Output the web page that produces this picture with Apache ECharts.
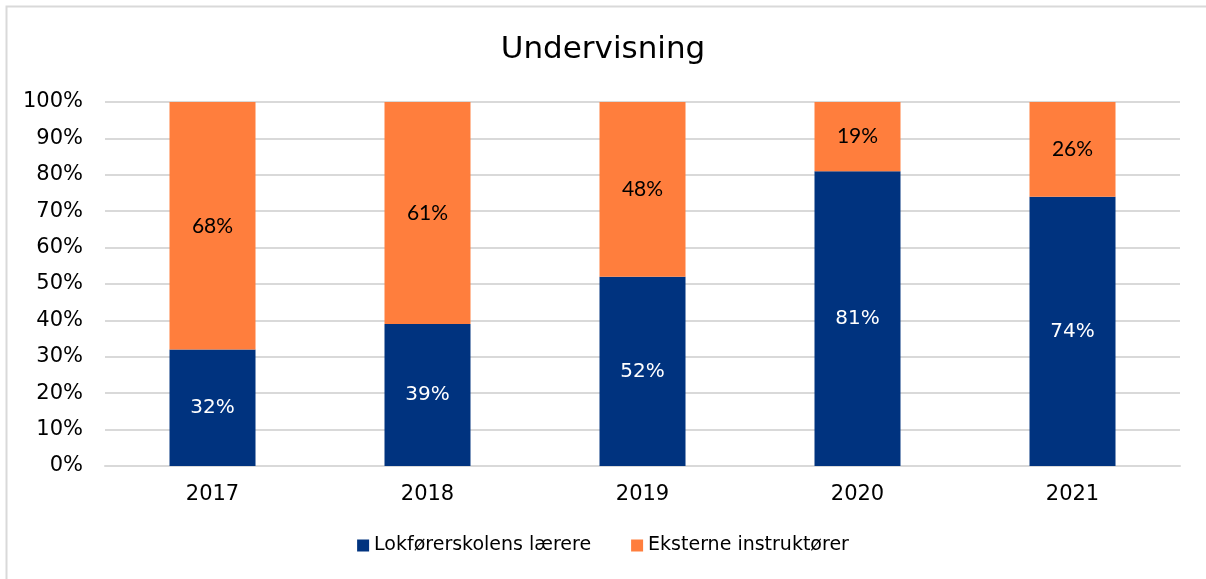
<!DOCTYPE html>
<html>
<head>
<meta charset="utf-8">
<script src="https://cdn.jsdelivr.net/npm/echarts@6/dist/echarts.min.js"></script>
<style>
  body { margin: 0; background: #fff; }
  #chart { width: 1206px; height: 579px; }
</style>
</head>
<body>
<div id="chart"></div>
<script>
// data
var years = ['2017', '2018', '2019', '2020', '2021'];
var laerere = [32, 39, 52, 81, 74];
var eksterne = [68, 61, 48, 19, 26];
var yTicks = [0, 10, 20, 30, 40, 50, 60, 70, 80, 90, 100];

var font = 'DejaVu Sans';
var chart = echarts.init(document.getElementById('chart'));

chart.setOption({
  animation: false,
  title: {
    text: 'Undervisning',
    left: 'center',
    top: 29,
    textStyle: { fontFamily: font, fontSize: 31, fontWeight: 'normal', color: '#000' }
  },
  graphic: [{
    type: 'rect',
    shape: { x: 6.5, y: 6.5, width: 1220, height: 620 },
    style: { fill: 'none', stroke: '#d9d9d9', lineWidth: 2 }
  }],
  legend: {
    bottom: 19,
    left: 'center',
    itemWidth: 12,
    itemHeight: 12,
    itemGap: 40,
    icon: 'rect',
    textStyle: { fontFamily: font, fontSize: 19, color: '#000', padding: [0, 0, 0, 0] }
  },
  grid: { left: 105, right: 26, top: 102, bottom: 113 },
  xAxis: {
    type: 'category',
    data: years,
    axisTick: { show: false },
    axisLine: { lineStyle: { color: '#d9d9d9', width: 2 } },
    axisLabel: { fontFamily: font, fontSize: 21, color: '#000', margin: 18 }
  },
  yAxis: {
    type: 'value',
    min: yTicks[0],
    max: yTicks[yTicks.length - 1],
    interval: 10,
    axisLine: { show: false },
    axisTick: { show: false },
    splitLine: { lineStyle: { color: '#d9d9d9', width: 2 } },
    axisLabel: { fontFamily: font, fontSize: 21, color: '#000', margin: 22, formatter: '{value}%' }
  },
  series: [
    {
      name: 'Lokførerskolens lærere',
      type: 'bar',
      stack: 'total',
      barWidth: '40%',
      data: laerere,
      itemStyle: { color: '#00337F' },
      label: {
        show: true,
        position: 'inside',
        formatter: '{c}%',
        color: '#fff',
        fontFamily: font,
        fontSize: 20
      }
    },
    {
      name: 'Eksterne instruktører',
      type: 'bar',
      stack: 'total',
      barWidth: '40%',
      data: eksterne,
      itemStyle: { color: '#FF7E3D' },
      label: {
        show: true,
        position: 'inside',
        formatter: '{c}%',
        color: '#000',
        fontFamily: 'Lato',
        fontSize: 21
      }
    }
  ]
});
</script>
</body>
</html>
